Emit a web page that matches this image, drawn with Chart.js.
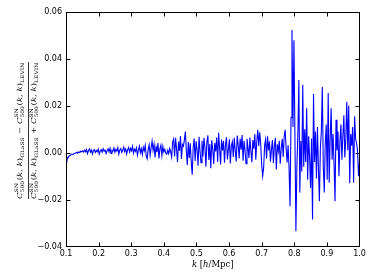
<!DOCTYPE html>
<html>
<head>
<meta charset="utf-8">
<script src="https://cdn.jsdelivr.net/npm/chart.js@4.4.1/dist/chart.umd.min.js"></script>
<style>
  html, body { margin: 0; padding: 0; background: #fff; }
  #wrap { width: 374px; height: 280px; }
</style>
</head>
<body>
<div id="wrap"><canvas id="chart"></canvas></div>
<script>
// tick positions
const kTicks = [0.1, 0.2, 0.3, 0.4, 0.5, 0.6, 0.7, 0.8, 0.9, 1.0];
const yTicks = [-0.04, -0.02, 0.00, 0.02, 0.04, 0.06];

// k grid: 0.100 .. 1.000, one value every 0.003 h/Mpc
const kFirst = 0.1;
const kStep = 0.003;

// relative difference GLaSS vs LEVIN
const relDiff = [
  -0.0017, -0.0030, -0.0022, -0.0015, -0.0012, -0.0010, -0.0006, -0.0008, -0.0004, -0.0003,
  -0.0001, 0.0002, -0.0002, 0.0003, 0.0001, 0.0006, 0.0004, 0.0008, 0.0003, 0.0011,
  0.0004, 0.0014, -0.0004, 0.0009, 0.0016, 0.0002, 0.0012, -0.0005, 0.0008, 0.0013,
  0.0001, 0.0010, 0.0004, 0.0015, -0.0006, 0.0007, 0.0013, 0.0002, 0.0017, 0.0006,
  0.0011, -0.0004, 0.0009, 0.0016, 0.0003, 0.0019, -0.0003, 0.0010, 0.0006, 0.0020,
  0.0002, 0.0014, 0.0007, 0.0022, -0.0006, 0.0012, 0.0018, 0.0001, 0.0010, 0.0024,
  0.0005, 0.0016, -0.0006, 0.0013, 0.0022, 0.0003, 0.0019, 0.0008, 0.0027, -0.0002,
  0.0015, 0.0006, 0.0021, -0.0011, 0.0011, 0.0028, 0.0000, 0.0017, -0.0008, 0.0023,
  0.0008, 0.0031, -0.0015, -0.0026, 0.0014, 0.0034, -0.0012, 0.0020, 0.0050, 0.0010,
  0.0036, -0.0020, 0.0024, 0.0002, 0.0041, -0.0025, 0.0017, 0.0032, -0.0012, 0.0027,
  0.0003, 0.0014, -0.0002, -0.0006, 0.0010, -0.0004, 0.0018, 0.0005, -0.0018, 0.0045,
  0.0058, -0.0016, 0.0064, 0.0016, -0.0040, 0.0047, 0.0008, 0.0071, -0.0027, 0.0035,
  0.0028, 0.0055, 0.0090, 0.0010, -0.0052, 0.0046, -0.0022, 0.0040, -0.0038, -0.0094,
  0.0022, 0.0060, -0.0035, 0.0049, 0.0011, -0.0056, 0.0068, 0.0006, -0.0043, 0.0051,
  -0.0016, 0.0063, 0.0023, -0.0060, 0.0045, 0.0074, -0.0031, 0.0037, -0.0066, 0.0053,
  0.0016, -0.0048, 0.0041, 0.0005, 0.0065, -0.0040, 0.0085, 0.0019, -0.0050, 0.0056,
  0.0010, 0.0050, -0.0043, 0.0032, 0.0066, -0.0029, 0.0014, 0.0057, -0.0046, 0.0029,
  0.0046, -0.0018, 0.0064, 0.0007, -0.0037, 0.0073, 0.0034, -0.0025, 0.0060, 0.0013,
  0.0075, -0.0034, 0.0051, 0.0009, -0.0047, 0.0059, 0.0022, -0.0022, 0.0065, 0.0006,
  -0.0041, 0.0054, 0.0017, 0.0080, -0.0030, 0.0047, 0.0098, 0.0029, 0.0087, 0.0038,
  -0.0049, -0.0100, -0.0066, 0.0030, 0.0056, -0.0025, 0.0070, 0.0010, 0.0049, -0.0038,
  0.0013, 0.0054, -0.0044, 0.0028, 0.0063, -0.0072, 0.0036, 0.0006, 0.0051, -0.0047,
  0.0020, 0.0059, -0.0018, 0.0068, 0.0098, 0.0018, -0.0042, 0.0032, -0.0064, -0.0228,
  0.0150, 0.0523, 0.0110, 0.0480, 0.0070, -0.0335, -0.0060, 0.0080, 0.0310, -0.0170,
  0.0050, -0.0080, 0.0290, -0.0060, 0.0100, -0.0040, 0.0190, -0.0115, 0.0070, -0.0020,
  -0.0150, 0.0060, -0.0285, 0.0250, -0.0040, 0.0090, -0.0110, 0.0110, -0.0060, -0.0207,
  0.0020, 0.0090, 0.0280, -0.0060, -0.0170, 0.0040, 0.0120, -0.0115, 0.0255, -0.0128,
  0.0060, 0.0190, -0.0030, 0.0080, -0.0050, -0.0207, 0.0140, 0.0010, 0.0090, -0.0100,
  0.0050, 0.0120, -0.0030, 0.0070, 0.0160, -0.0020, 0.0060, 0.0217, 0.0010, 0.0200,
  -0.0130, 0.0080, 0.0030, 0.0110, -0.0128, 0.0155, 0.0060, 0.0040, 0.0010, -0.0100,
  -0.0040
];

const points = relDiff.map((v, i) => ({ x: kFirst + i * kStep, y: v }));

const SERIF = '"DejaVu Serif"';

// draws a run of math pieces; returns its width
function mathRun(ctx, pieces, size, x0, y0, draw) {
  let x = x0;
  const small = size * 0.7;
  pieces.forEach(p => {
    if (p.t !== undefined) {
      ctx.font = (p.it ? 'italic ' : '') + size + 'px ' + SERIF;
      if (draw) ctx.fillText(p.t, x, y0);
      x += ctx.measureText(p.t).width;
    } else {
      ctx.font = small + 'px ' + SERIF;
      let w = 0;
      if (p.sup) {
        if (draw) ctx.fillText(p.sup, x, y0 - size * 0.45);
        w = Math.max(w, ctx.measureText(p.sup).width);
      }
      if (p.sub) {
        if (draw) ctx.fillText(p.sub, x, y0 + size * 0.3);
        w = Math.max(w, ctx.measureText(p.sub).width);
      }
      x += w + 0.5;
    }
  });
  return x - x0;
}

function cTerm(tag) {
  return [
    { t: 'C', it: true }, { sup: 'SN', sub: '500' },
    { t: '(' }, { t: 'k', it: true }, { t: ', ' }, { t: 'k', it: true }, { t: ')' },
    { sub: tag }
  ];
}

const numerator = cTerm('GLaSS').concat([{ t: ' \u2212 ' }], cTerm('LEVIN'));
const denominator = cTerm('GLaSS').concat([{ t: ' + ' }], cTerm('LEVIN'));

const framePlugin = {
  id: 'frame',
  afterDraw(chart) {
    const ctx = chart.ctx;
    const { left, right, top, bottom } = chart.chartArea;
    const xs = chart.scales.x, ys = chart.scales.y;
    ctx.save();
    ctx.strokeStyle = '#000';
    ctx.lineWidth = 1;
    const L = Math.round(left) + 0.5, R = Math.round(right) - 0.5;
    const T = Math.round(top) + 0.5, B = Math.round(bottom) - 0.5;
    const clampX = p => Math.min(R, Math.max(L, p));
    const clampY = p => Math.min(B, Math.max(T, p));
    ctx.strokeRect(L, T, R - L, B - T);
    ctx.beginPath();
    kTicks.forEach(v => {
      const px = clampX(Math.round(xs.getPixelForValue(v)) + 0.5);
      ctx.moveTo(px, B); ctx.lineTo(px, B - 4);
      ctx.moveTo(px, T); ctx.lineTo(px, T + 4);
    });
    yTicks.forEach(v => {
      const py = clampY(Math.round(ys.getPixelForValue(v)) + 0.5);
      ctx.moveTo(L, py); ctx.lineTo(L + 4, py);
      ctx.moveTo(R, py); ctx.lineTo(R - 4, py);
    });
    ctx.stroke();

    // x axis label
    ctx.fillStyle = '#000';
    ctx.textBaseline = 'alphabetic';
    ctx.textAlign = 'left';
    const xl = [{ t: 'k', it: true }, { t: ' [' }, { t: 'h', it: true }, { t: '/Mpc]' }];
    const xw = mathRun(ctx, xl, 8.5, 0, 0, false);
    mathRun(ctx, xl, 8.5, (left + right) / 2 - xw / 2, 267, true);

    // y axis label: rotated fraction
    ctx.translate(28.5, 130.5);
    ctx.rotate(-Math.PI / 2);
    const size = 6.8;
    const target = 137;
    const wn = mathRun(ctx, numerator, size, 0, 0, false);
    const wd = mathRun(ctx, denominator, size, 0, 0, false);
    ctx.beginPath();
    ctx.lineWidth = 0.8;
    ctx.moveTo(-target / 2, 0);
    ctx.lineTo(target / 2, 0);
    ctx.stroke();
    ctx.save();
    ctx.scale(target / wn, 1);
    mathRun(ctx, numerator, size, -wn / 2, -7, true);
    ctx.restore();
    ctx.save();
    ctx.scale(target / wd, 1);
    mathRun(ctx, denominator, size, -wd / 2, 7.5, true);
    ctx.restore();
    ctx.restore();
  }
};

const tickFont = { family: '"DejaVu Sans"', size: 8 };

new Chart(document.getElementById('chart'), {
  type: 'line',
  data: {
    datasets: [{
      data: points,
      borderColor: '#0000ff',
      borderWidth: 1.1,
      pointRadius: 0,
      tension: 0,
      fill: false
    }]
  },
  options: {
    responsive: true,
    maintainAspectRatio: false,
    animation: false,
    events: [],
    layout: { padding: { left: 0, top: 12, right: 14.5, bottom: 0 } },
    plugins: { legend: { display: false }, tooltip: { enabled: false } },
    scales: {
      x: {
        type: 'linear',
        min: 0.1,
        max: 1.0,
        afterBuildTicks: s => { s.ticks = kTicks.map(v => ({ value: v })); },
        afterFit: s => { s.height = 33.5; },
        grid: { display: false, drawTicks: false },
        border: { display: false },
        ticks: {
          color: '#000',
          font: tickFont,
          padding: 3,
          maxRotation: 0,
          autoSkip: false,
          callback: v => v.toFixed(1)
        }
      },
      y: {
        min: -0.04,
        max: 0.06,
        afterBuildTicks: s => { s.ticks = yTicks.map(v => ({ value: v })); },
        afterFit: s => { s.width = 66; },
        grid: { display: false, drawTicks: false },
        border: { display: false },
        ticks: {
          color: '#000',
          font: tickFont,
          padding: 4,
          autoSkip: false,
          callback: v => (v < -1e-9 ? '\u2212' : '') + Math.abs(v).toFixed(2)
        }
      }
    }
  },
  plugins: [framePlugin]
});
</script>
</body>
</html>
